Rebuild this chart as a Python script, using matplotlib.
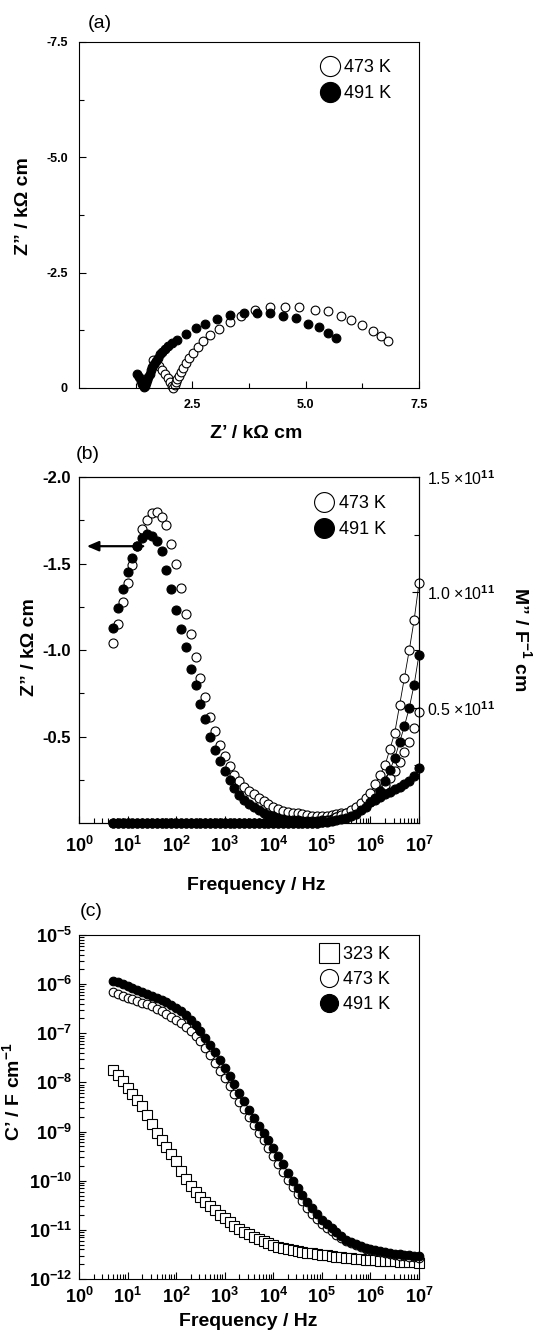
import numpy as np
import matplotlib
matplotlib.use('Agg')
import matplotlib.pyplot as plt
from matplotlib.ticker import LogLocator, FixedLocator, FuncFormatter, NullFormatter

plt.rcParams['font.family'] = ['Liberation Sans', 'DejaVu Sans']
plt.rcParams['mathtext.fontset'] = 'custom'
plt.rcParams['mathtext.rm'] = 'Liberation Sans:bold'
plt.rcParams['mathtext.it'] = 'Liberation Sans:bold'
plt.rcParams['mathtext.bf'] = 'Liberation Sans:bold'
plt.rcParams['mathtext.default'] = 'rm'

# ---------------- data ----------------
# (a) Nyquist plot, Z' and Z'' in kOhm cm
zr_473 = [1.63, 1.70, 1.77, 1.84, 1.90, 1.96, 2.01, 2.05, 2.08, 2.11, 2.14, 2.17, 2.20, 2.24, 2.29, 2.35,
          2.43, 2.51, 2.62, 2.74, 2.90, 3.09, 3.32, 3.58, 3.88, 4.22, 4.55, 4.86, 5.21, 5.49, 5.78, 6.00,
          6.24, 6.48, 6.67, 6.82]
zi_473 = [-0.60, -0.55, -0.48, -0.40, -0.31, -0.22, -0.13, -0.05, -0.01, -0.06, -0.12, -0.19, -0.26, -0.34,
          -0.43, -0.54, -0.64, -0.76, -0.88, -1.02, -1.14, -1.28, -1.43, -1.56, -1.68, -1.76, -1.76, -1.76,
          -1.70, -1.66, -1.55, -1.47, -1.36, -1.24, -1.13, -1.01]
zr_491 = [1.28, 1.32, 1.36, 1.40, 1.44, 1.46, 1.48, 1.50, 1.53, 1.56, 1.59, 1.62, 1.66, 1.70, 1.74, 1.79,
          1.84, 1.90, 1.97, 2.06, 2.17, 2.35, 2.57, 2.79, 3.04, 3.32, 3.64, 3.93, 4.22, 4.51, 4.78, 5.06,
          5.29, 5.49, 5.68]
zi_491 = [-0.30, -0.23, -0.16, -0.09, -0.02, -0.05, -0.11, -0.17, -0.24, -0.31, -0.38, -0.45, -0.52, -0.59,
          -0.66, -0.73, -0.79, -0.85, -0.91, -0.98, -1.05, -1.16, -1.29, -1.39, -1.50, -1.59, -1.63, -1.63,
          -1.63, -1.56, -1.51, -1.39, -1.32, -1.20, -1.08]

# measurement frequencies (Hz), panels (b) and (c)
freq = [5.01, 6.31, 7.94,
        1.00e1, 1.26e1, 1.58e1, 2.00e1, 2.51e1, 3.16e1, 3.98e1, 5.01e1, 6.31e1, 7.94e1,
        1.00e2, 1.26e2, 1.58e2, 2.00e2, 2.51e2, 3.16e2, 3.98e2, 5.01e2, 6.31e2, 7.94e2,
        1.00e3, 1.26e3, 1.58e3, 2.00e3, 2.51e3, 3.16e3, 3.98e3, 5.01e3, 6.31e3, 7.94e3,
        1.00e4, 1.26e4, 1.58e4, 2.00e4, 2.51e4, 3.16e4, 3.98e4, 5.01e4, 6.31e4, 7.94e4,
        1.00e5, 1.26e5, 1.58e5, 2.00e5, 2.51e5, 3.16e5, 3.98e5, 5.01e5, 6.31e5, 7.94e5,
        1.00e6, 1.26e6, 1.58e6, 2.00e6, 2.51e6, 3.16e6, 3.98e6, 5.01e6, 6.31e6, 7.94e6,
        1.00e7]

# (b) Z'' (kOhm cm)
zb_473 = [-1.04, -1.15, -1.28, -1.39, -1.49, -1.60, -1.70, -1.75, -1.79, -1.80, -1.77, -1.72, -1.61,
          -1.50, -1.36, -1.21, -1.09, -0.96, -0.84, -0.73, -0.61, -0.53, -0.45,
          -0.39, -0.33, -0.28, -0.24, -0.21, -0.185, -0.165, -0.145, -0.125, -0.11,
          -0.09, -0.08, -0.07, -0.065, -0.06, -0.055, -0.05, -0.045, -0.04, -0.04,
          -0.04, -0.042, -0.045, -0.05, -0.055, -0.06, -0.07, -0.085, -0.10, -0.12,
          -0.14, -0.165, -0.19, -0.22, -0.26, -0.30, -0.35, -0.41, -0.47, -0.55,
          -0.64]
zb_491 = [-1.13, -1.24, -1.35, -1.45, -1.53, -1.60, -1.65, -1.67, -1.66, -1.63, -1.57, -1.46, -1.35,
          -1.23, -1.12, -1.02, -0.89, -0.80, -0.69, -0.60, -0.50, -0.42, -0.36,
          -0.30, -0.25, -0.20, -0.16, -0.135, -0.11, -0.09, -0.075, -0.06, -0.048,
          -0.038, -0.03, -0.024, -0.02, -0.017, -0.015, -0.014, -0.013, -0.013, -0.014,
          -0.016, -0.02, -0.025, -0.032, -0.04, -0.05, -0.062, -0.075, -0.09, -0.105,
          -0.12, -0.135, -0.15, -0.165, -0.18, -0.195, -0.21, -0.225, -0.245, -0.27,
          -0.32]
# (b) M'' (x 1e11 F^-1 cm)
mb_473 = [0.0, 0.0, 0.0,
          0.0, 0.0, 0.0, 0.0, 0.0, 0.0, 0.0, 0.0, 0.0, 0.0,
          0.0, 0.0, 0.0, 0.0, 0.0, 0.0, 0.0, 0.0, 0.0, 0.0,
          0.0, 0.0, 0.0, 0.0, 0.0, 0.0, 0.0, 0.0, 0.0, 0.0,
          0.0, 0.0, 0.0, 0.0, 0.0, 0.0, 0.0, 0.0, 0.0, 0.0,
          0.005, 0.01, 0.015, 0.025, 0.035, 0.045, 0.055, 0.07, 0.085, 0.11,
          0.13, 0.17, 0.21, 0.25, 0.32, 0.39, 0.51, 0.63, 0.75, 0.88,
          1.04]
mb_491 = [0.0, 0.0, 0.0,
          0.0, 0.0, 0.0, 0.0, 0.0, 0.0, 0.0, 0.0, 0.0, 0.0,
          0.0, 0.0, 0.0, 0.0, 0.0, 0.0, 0.0, 0.0, 0.0, 0.0,
          0.0, 0.0, 0.0, 0.0, 0.0, 0.0, 0.0, 0.0, 0.0, 0.0,
          0.0, 0.0, 0.0, 0.0, 0.0, 0.0, 0.0, 0.0, 0.0, 0.0,
          0.003, 0.005, 0.008, 0.012, 0.017, 0.023, 0.03, 0.04, 0.055, 0.07,
          0.09, 0.11, 0.14, 0.18, 0.23, 0.28, 0.35, 0.42, 0.50, 0.60,
          0.73]

# (c) log10 of C' (F cm^-1)
logc_323 = [-7.74, -7.84, -7.97,
            -8.12, -8.24, -8.36, -8.48, -8.67, -8.85, -9.02, -9.17, -9.31, -9.45,
            -9.60, -9.80, -9.97, -10.11, -10.23, -10.33, -10.43, -10.52, -10.60, -10.69,
            -10.76, -10.85, -10.92, -10.99, -11.04, -11.09, -11.14, -11.19, -11.23, -11.27,
            -11.30, -11.34, -11.37, -11.39, -11.41, -11.43, -11.45, -11.47, -11.48, -11.50,
            -11.51, -11.52, -11.54, -11.55, -11.56, -11.57, -11.58, -11.59, -11.60, -11.61,
            -11.61, -11.62, -11.63, -11.63, -11.64, -11.64, -11.65, -11.65, -11.66, -11.66,
            -11.67]
logc_473 = [-6.17, -6.20, -6.24,
            -6.28, -6.31, -6.34, -6.38, -6.41, -6.45, -6.50, -6.55, -6.60, -6.66,
            -6.72, -6.79, -6.87, -6.96, -7.05, -7.15, -7.29, -7.44, -7.60, -7.76,
            -7.92, -8.08, -8.24, -8.39, -8.55, -8.70, -8.86, -9.02, -9.18, -9.34,
            -9.50, -9.66, -9.82, -9.98, -10.13, -10.28, -10.42, -10.55, -10.67, -10.78,
            -10.88, -10.96, -11.03, -11.10, -11.16, -11.22, -11.26, -11.30, -11.35, -11.38,
            -11.42, -11.44, -11.46, -11.48, -11.50, -11.52, -11.53, -11.54, -11.55, -11.56,
            -11.57]
logc_491 = [-5.93, -5.96, -6.00,
            -6.04, -6.08, -6.12, -6.16, -6.21, -6.25, -6.29, -6.33, -6.37, -6.42,
            -6.48, -6.55, -6.63, -6.73, -6.84, -6.95, -7.09, -7.23, -7.38, -7.54,
            -7.70, -7.87, -8.04, -8.21, -8.38, -8.56, -8.72, -8.88, -9.03, -9.18,
            -9.34, -9.50, -9.67, -9.84, -10.00, -10.15, -10.30, -10.43, -10.56, -10.68,
            -10.79, -10.88, -10.97, -11.05, -11.13, -11.20, -11.25, -11.29, -11.33, -11.36,
            -11.39, -11.41, -11.43, -11.45, -11.47, -11.49, -11.50, -11.51, -11.52, -11.53,
            -11.54]

labels_ab = ['473 K', '491 K']
labels_c = ['323 K', '473 K', '491 K']
freq_decades = [1e0, 1e1, 1e2, 1e3, 1e4, 1e5, 1e6, 1e7]
cap_decades = [1e-12, 1e-11, 1e-10, 1e-9, 1e-8, 1e-7, 1e-6, 1e-5]

# ---------------- figure ----------------
W, H = 537, 1335
fig = plt.figure(figsize=(W / 100, H / 100), dpi=100)


def box(l, t, r, b):
    return [l / W, 1 - b / H, (r - l) / W, (b - t) / H]


def style(ax, size, bold=True, pad=6):
    ax.tick_params(which='both', direction='in', top=False, right=False,
                   width=0.8, labelsize=size, pad=pad)
    ax.tick_params(which='major', length=5)
    ax.tick_params(which='minor', length=3.5)
    for s in ax.spines.values():
        s.set_linewidth(0.8)
    if bold:
        for t in ax.get_xticklabels() + ax.get_yticklabels():
            t.set_fontweight('bold')


open_kw = dict(linestyle='none', marker='o', mfc='white', mec='black', mew=0.8)
fill_kw = dict(linestyle='none', marker='o', mfc='black', mec='black', mew=0.8)
log_fmt = FuncFormatter(lambda v, p: r'$10^{%d}$' % int(round(np.log10(v))))

# ---- (a) ----
axA = fig.add_axes(box(79, 42, 419, 388))
axA.plot(zr_473, zi_473, ms=6.3, label=labels_ab[0], clip_on=False, **open_kw)
axA.plot(zr_491, zi_491, ms=6.3, label=labels_ab[1], clip_on=False, **fill_kw)
axA.set_xlim(0, 7.5)
axA.set_ylim(0, -7.5)
axA.set_xticks([2.5, 5.0, 7.5], labels=['2.5', '5.0', '7.5'])
axA.set_xticks([1.25, 3.75, 6.25], minor=True)
axA.set_yticks([0, -2.5, -5.0, -7.5], labels=['0', '-2.5', '-5.0', '-7.5'])
axA.set_yticks([-1.25, -3.75, -6.25], minor=True)
style(axA, 9, pad=8)
axA.set_xlabel('Z’ / kΩ cm', fontsize=14, fontweight='bold')
axA.xaxis.set_label_coords(0.52, -0.107)
axA.set_ylabel('Z” / kΩ cm', fontsize=14, fontweight='bold')
axA.yaxis.set_label_coords(-0.138, 0.525)
axA.legend(loc='upper right', bbox_to_anchor=(0.918, 0.951), frameon=False, fontsize=13,
           markerscale=2.3, handlelength=1.0, handletextpad=0.3, labelspacing=0.5,
           borderpad=0, borderaxespad=0)

# ---- (b) ----
axB = fig.add_axes(box(79, 477, 419, 823))
axB.set_xscale('log')
axB.plot(freq, zb_473, ms=6.5, label=labels_ab[0], clip_on=False, **open_kw)
axB.plot(freq, zb_491, ms=6.5, label=labels_ab[1], clip_on=False, **fill_kw)
axB.set_xlim(1, 1e7)
axB.set_ylim(0, -2.0)
axB.xaxis.set_major_locator(FixedLocator(freq_decades))
axB.xaxis.set_minor_locator(LogLocator(base=10, subs=np.arange(2, 10), numticks=20))
axB.xaxis.set_major_formatter(log_fmt)
axB.xaxis.set_minor_formatter(NullFormatter())
axB.set_yticks([-2.0, -1.5, -1.0, -0.5], labels=['-2.0', '-1.5', '-1.0', '-0.5'])
axB.set_yticks([-1.75, -1.25, -0.75, -0.25], minor=True)
style(axB, 12, pad=6)
axB.tick_params(axis='x', labelsize=13, pad=9)
axB.set_xlabel('Frequency / Hz', fontsize=14, fontweight='bold')
axB.xaxis.set_label_coords(0.52, -0.155)
axB.set_ylabel('Z” / kΩ cm', fontsize=14, fontweight='bold')
axB.yaxis.set_label_coords(-0.121, 0.509)
axB.annotate('', xy=(1.45, -1.6), xytext=(21, -1.6),
             arrowprops=dict(arrowstyle='-|>,head_length=0.7,head_width=0.3', lw=1.6,
                             color='black', shrinkA=0, shrinkB=0))
axB.legend(loc='upper right', bbox_to_anchor=(0.903, 0.948), frameon=False, fontsize=13,
           markerscale=2.2, handlelength=1.0, handletextpad=0.3, labelspacing=0.5,
           borderpad=0, borderaxespad=0)

axB2 = axB.twinx()
axB2.plot(freq, mb_473, ms=6.5, color='black', lw=0.6, marker='o', mfc='white', mec='black',
          mew=0.8, clip_on=False)
axB2.plot(freq, mb_491, ms=6.5, color='black', lw=0.6, marker='o', mfc='black', mec='black',
          mew=0.8, clip_on=False)
axB2.set_ylim(0, 1.5)
axB2.set_yticks([0.5, 1.0, 1.5], labels=['0.5 ×10$^{11}$', '1.0 ×10$^{11}$', '1.5 ×10$^{11}$'])
axB2.set_yticks([0.25, 0.75, 1.25], minor=True)
axB2.tick_params(which='both', direction='in', left=False, right=True, width=0.8,
                 labelsize=11.5, pad=6)
axB2.tick_params(which='major', length=5)
axB2.tick_params(which='minor', length=3.5)
axB2.set_ylabel('M” / F$^{-1}$ cm', fontsize=14, fontweight='bold', rotation=270, va='bottom')
axB2.yaxis.set_label_coords(1.27, 0.53)

# ---- (c) ----
axC = fig.add_axes(box(79, 935, 419, 1279))
axC.set_xscale('log')
axC.set_yscale('log')
axC.plot(freq, [10 ** v for v in logc_323], ms=6.8, label=labels_c[0], clip_on=False,
         linestyle='none', marker='s', mfc='white', mec='black', mew=0.8)
axC.plot(freq, [10 ** v for v in logc_473], ms=6.2, label=labels_c[1], clip_on=False, **open_kw)
axC.plot(freq, [10 ** v for v in logc_491], ms=6.2, label=labels_c[2], clip_on=False, **fill_kw)
axC.set_xlim(1, 1e7)
axC.set_ylim(1e-12, 1e-5)
axC.xaxis.set_major_locator(FixedLocator(freq_decades))
axC.yaxis.set_major_locator(FixedLocator(cap_decades))
for axis in (axC.xaxis, axC.yaxis):
    axis.set_minor_locator(LogLocator(base=10, subs=np.arange(2, 10), numticks=20))
    axis.set_major_formatter(log_fmt)
    axis.set_minor_formatter(NullFormatter())
style(axC, 13, pad=5)
axC.tick_params(axis='x', pad=6)
axC.set_xlabel('Frequency / Hz', fontsize=14, fontweight='bold')
axC.xaxis.set_label_coords(0.497, -0.1)
axC.set_ylabel('C’ / F cm$^{-1}$', fontsize=14, fontweight='bold')
axC.yaxis.set_label_coords(-0.165, 0.544)
axC.legend(loc='upper right', bbox_to_anchor=(0.915, 0.968), frameon=False, fontsize=13,
           markerscale=2.1, handlelength=1.0, handletextpad=0.3, labelspacing=0.45,
           borderpad=0, borderaxespad=0)

# panel labels
fig.text(100 / W, 1 - 24 / H, '(a)', ha='center', va='center', fontsize=14)
fig.text(88 / W, 1 - 455 / H, '(b)', ha='center', va='center', fontsize=14)
fig.text(91 / W, 1 - 912 / H, '(c)', ha='center', va='center', fontsize=14)

fig.savefig('out.png', dpi=100)
